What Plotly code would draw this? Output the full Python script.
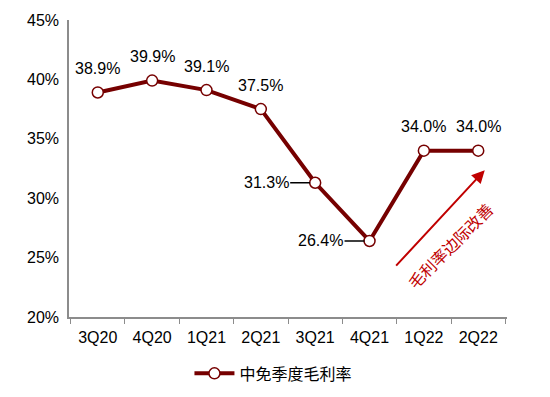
import plotly.graph_objects as go

quarters = ["3Q20", "4Q20", "1Q21", "2Q21", "3Q21", "4Q21", "1Q22", "2Q22"]
margin_pct = [38.9, 39.9, 39.1, 37.5, 31.3, 26.4, 34.0, 34.0]
label_side = ["top", "top", "top", "top", "left", "left", "top", "top"]
series_name = "中免季度毛利率"
arrow_text = "毛利率边际改善"
y_ticks = [20, 25, 30, 35, 40, 45]
y_tick_labels = ["20%", "25%", "30%", "35%", "40%", "45%"]

LINE_COLOR = "#760000"
RED = "#C00000"
FONT = "Liberation Sans, Arial, Noto Sans CJK SC, sans-serif"
FS = 16

fig = go.Figure()
fig.add_trace(go.Scatter(
    x=quarters, y=margin_pct, mode="lines+markers", name=series_name,
    line=dict(color=LINE_COLOR, width=4),
    marker=dict(size=11, color="white", line=dict(color=LINE_COLOR, width=1.5)),
))

annotations = []
for q, v, side in zip(quarters, margin_pct, label_side):
    if side == "top":
        annotations.append(dict(x=q, y=v, text=f"{v:.1f}%", showarrow=False,
                                yshift=24, font=dict(size=FS, color="#000000")))
    else:
        annotations.append(dict(x=q, y=v, text=f"{v:.1f}%", showarrow=True,
                                arrowhead=0, arrowwidth=1.5, arrowcolor="#000000",
                                ax=-49, ay=0, standoff=5,
                                font=dict(size=FS, color="#000000")))

# improvement arrow
annotations.append(dict(x=7.12, y=32.36, xref="x", yref="y", text="",
                        showarrow=True, arrowhead=2, arrowsize=1.3, arrowwidth=2,
                        arrowcolor=RED, ax=-90, ay=97))
annotations.append(dict(x=6.5, y=25.95, xref="x", yref="y", text=arrow_text,
                        showarrow=False, textangle=-45,
                        font=dict(size=FS, color=RED)))

fig.update_layout(
    width=542, height=389,
    margin=dict(l=61, r=43, t=12, b=80, autoexpand=False),
    paper_bgcolor="white", plot_bgcolor="white",
    font=dict(family=FONT, size=FS, color="#000000"),
    showlegend=True,
    legend=dict(orientation="h", x=0.275, xanchor="left", y=-0.19, yanchor="middle",
                font=dict(size=FS), itemwidth=40),
    annotations=annotations,
)
fig.update_xaxes(
    type="category", showgrid=False, showline=True, linecolor="#8c8c8c", linewidth=1.5,
    ticks="outside", ticklen=5, tickcolor="#8c8c8c", tickson="boundaries",
    tickfont=dict(size=FS), automargin=False, ticklabelstandoff=5,
)
fig.update_yaxes(
    range=[20, 45], tickmode="array", tickvals=y_ticks, ticktext=y_tick_labels,
    showgrid=False, zeroline=False,
    showline=True, linecolor="#8c8c8c", linewidth=1.5, ticks="", ticklen=0,
    tickfont=dict(size=FS), automargin=False, ticklabelstandoff=5,
)

fig.write_html("out.html")
